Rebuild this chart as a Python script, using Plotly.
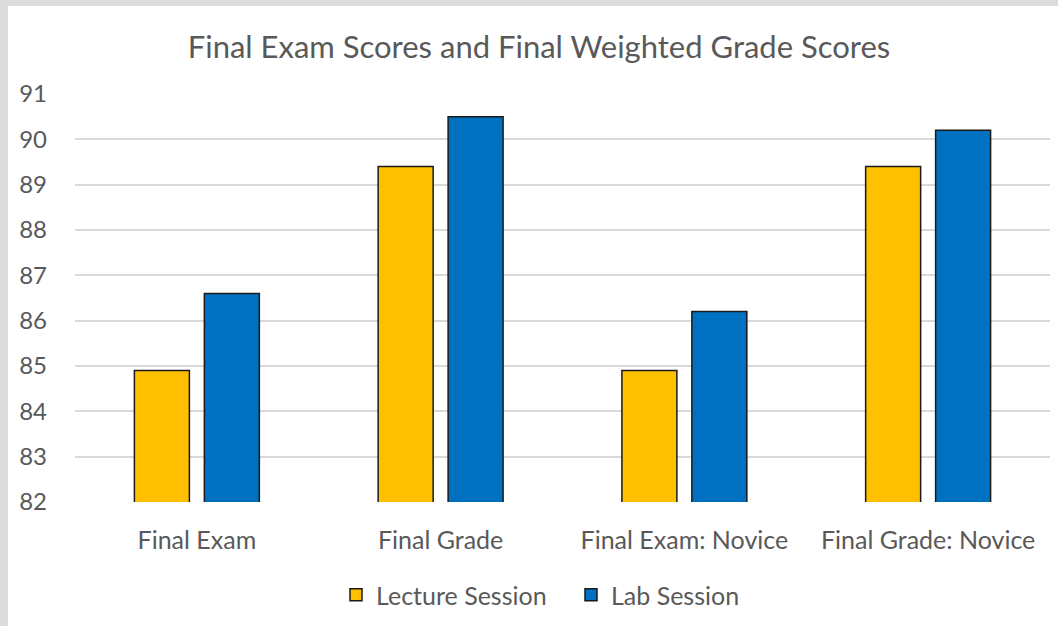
import plotly.graph_objects as go

categories = ["Final Exam", "Final Grade", "Final Exam: Novice", "Final Grade: Novice"]
lecture = [84.9, 89.4, 84.9, 89.4]
lab = [86.6, 90.5, 86.2, 90.2]
y_ticks = [82, 83, 84, 85, 86, 87, 88, 89, 90, 91]

W, H = 1058, 626
L, R, T, B = 75, 8, 94, 124
pw = W - L - R
ph = H - T - B

def px_x(x):
    return (x - L) / pw

def px_y(y):
    return (H - B - y) / ph

FONT = "Lato"
GREY = "#595959"

fig = go.Figure()
fig.add_trace(go.Bar(x=categories, y=lecture, name="Lecture Session",
                     marker=dict(color="#FFC000", line=dict(color="#1a1a1a", width=1.5))))
fig.add_trace(go.Bar(x=categories, y=lab, name="Lab Session",
                     marker=dict(color="#0070C0", line=dict(color="#1a1a1a", width=1.5))))

fig.update_layout(
    width=W, height=H,
    margin=dict(l=L, r=R, t=T, b=B),
    paper_bgcolor="white", plot_bgcolor="white",
    barmode="group", bargap=0.426, bargroupgap=0.214,
    title=dict(text="Final Exam Scores and Final Weighted Grade Scores",
               x=539 / W, xanchor="center", y=1 - 47 / H, yanchor="middle",
               xref="container", yref="container",
               font=dict(family=FONT, size=31, color=GREY)),
    font=dict(family=FONT, color=GREY),
    legend=dict(orientation="h", x=px_x(571), xanchor="center", y=px_y(595), yanchor="middle",
                font=dict(family=FONT, size=25, color=GREY), itemwidth=30, entrywidth=190),
    showlegend=True,
    shapes=[
        dict(type="rect", xref="paper", yref="paper", x0=px_x(0), x1=px_x(8), y0=px_y(H), y1=px_y(0),
             fillcolor="#dcdcdc", line=dict(width=0), layer="below"),
        dict(type="rect", xref="paper", yref="paper", x0=px_x(0), x1=px_x(W), y0=px_y(6), y1=px_y(0),
             fillcolor="#dcdcdc", line=dict(width=0), layer="below"),
    ],
)
fig.update_yaxes(range=[82, 91], tickvals=y_ticks, showgrid=True, gridcolor="#d9d9d9", gridwidth=1.5,
                 zeroline=False, showline=False, ticks="", tickfont=dict(family=FONT, size=24, color=GREY),
                 ticklabelstandoff=27)
fig.update_xaxes(showgrid=False, showline=False, ticks="", zeroline=False,
                 tickfont=dict(family=FONT, size=25, color=GREY), ticklabelstandoff=21)

fig.write_html("out.html", post_script="document.body.style.margin='0';",
               config={"displayModeBar": False})
